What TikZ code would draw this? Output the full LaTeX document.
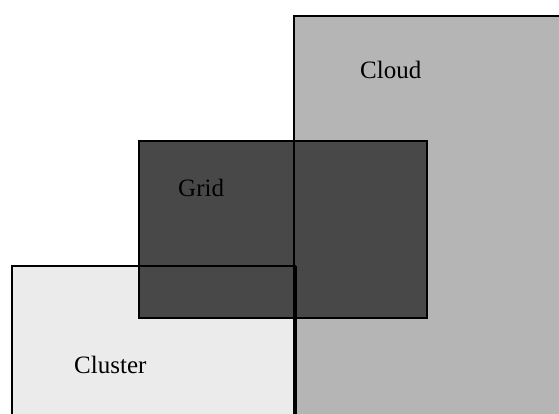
\documentclass[tikz,border=0pt]{standalone}
\usepackage{fontspec}
\setmainfont{Liberation Serif}
\begin{document}
\begin{tikzpicture}[x=1pt,y=1pt,
  area/.style={inner sep=0pt, outer sep=0pt, anchor=north west},
  edge/.style={draw=black, line width=1.6pt},
  label/.style={anchor=base west, inner sep=0pt, font=\fontsize{25}{30}\selectfont}]
\useasboundingbox (0,0) rectangle (559,414);
\clip (0,0) rectangle (559,414);
\fill[white] (0,0) rectangle (559,414);
% filled areas, back to front
\node[area, fill={rgb,255:red,181;green,181;blue,181}, minimum width=280pt, minimum height=410pt] (cloud) at (294,398) {};
\node[area, fill={rgb,255:red,235;green,235;blue,235}, minimum width=284pt, minimum height=160pt] (cluster) at (12,148) {};
\node[area, fill={rgb,255:red,72;green,72;blue,72}, minimum width=288pt, minimum height=177pt] (grid) at (139,273) {};
% outlines on top of all fills
\draw[edge] (grid.north west) rectangle (grid.south east);
\draw[edge] (cloud.south west) -- (cloud.north west) -- (cloud.north east);
\draw[edge] (cluster.south west) -- (cluster.north west) -- (cluster.north east);
\draw[edge, line width=2.6pt] (cluster.north east) -- (cluster.south east);
% labels
\node[label] (cloudtext) at (360,335) {Cloud};
\node[label] (gridtext) at (178,217) {Grid};
\node[label] (clustertext) at (74,40) {Cluster};
\end{tikzpicture}
\end{document}
